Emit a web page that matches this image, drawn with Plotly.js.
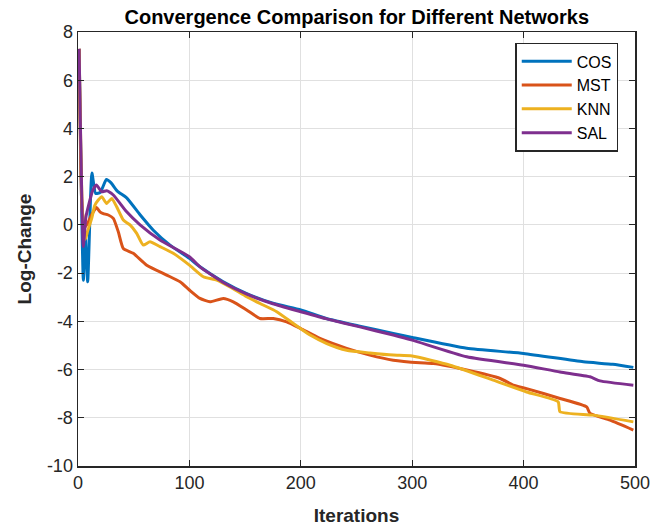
<!DOCTYPE html>
<html>
<head>
<meta charset="utf-8">
<script src="https://cdn.plot.ly/plotly-3.0.1.min.js"></script>
<style>html,body{margin:0;padding:0;background:#fff;}#chart{width:651px;height:529px;}</style>
</head>
<body>
<div id="chart"></div>
<script>
// Series names
const seriesNames = ["COS", "MST", "KNN", "SAL"];
const seriesColors = ["#0072BD", "#D95319", "#EDB120", "#7E2F8E"];

// COS (blue)
const cosX = [1, 4.8, 6.5, 8.7, 12.5, 15.9, 20, 25.5, 29.5, 35.3, 43.7, 55.7, 67.6, 82.6, 100, 109.5, 130, 151, 175, 200, 223, 253, 283, 300, 349, 400, 453.6, 480, 498.5];
const cosY = [7.3, -2.3, -0.4, -2.36, 2.15, 1.3, 1.35, 1.88, 1.75, 1.4, 1.12, 0.42, -0.22, -0.84, -1.39, -1.74, -2.35, -2.84, -3.25, -3.53, -3.88, -4.2, -4.5, -4.67, -5.12, -5.33, -5.68, -5.78, -5.91];

// MST (orange)
const mstX = [1, 3.5, 6, 9, 12, 16.5, 19.7, 22.7, 27.2, 31.7, 36.2, 40.7, 49.6, 61.7, 79.6, 91.6, 100, 109.5, 118.5, 130.4, 139.4, 151.4, 163.4, 175.3, 187.3, 200, 217.2, 241.2, 262, 283, 307, 319, 349, 379, 390.8, 402.7, 432.7, 456.6, 459.6, 477.6, 498.5];
const mstY = [7.3, 0.8, -0.1, 0.1, 0.4, 0.72, 0.54, 0.47, 0.41, 0.27, -0.29, -0.98, -1.18, -1.67, -2.08, -2.36, -2.7, -3.05, -3.19, -3.05, -3.19, -3.53, -3.88, -3.88, -4.02, -4.3, -4.71, -5.12, -5.4, -5.61, -5.72, -5.75, -6.02, -6.37, -6.65, -6.79, -7.2, -7.55, -7.82, -8.1, -8.51];

// KNN (yellow)
const knnX = [1, 4, 6.5, 8.7, 12.3, 15, 18.2, 21.3, 25.7, 30.3, 34.7, 40.7, 46.7, 52.7, 58.6, 64.6, 73.6, 85.5, 100, 112.5, 124.5, 136.4, 151.4, 163.4, 178.4, 193.3, 208.3, 223.3, 241.2, 262, 283, 300, 334, 372.8, 402.7, 431, 432.7, 462.6, 498.5];
const knnY = [7.3, 0.5, -0.6, -0.25, 0.27, 0.8, 1.03, 1.17, 0.89, 1.1, 0.75, 0.2, 0.0, -0.35, -0.84, -0.7, -0.9, -1.18, -1.67, -2.15, -2.29, -2.57, -2.98, -3.26, -3.6, -4.09, -4.57, -4.92, -5.2, -5.31, -5.4, -5.44, -5.82, -6.44, -6.93, -7.34, -7.75, -7.89, -8.17];

// SAL (purple)
const salX = [1, 4.8, 7, 10, 13, 16.5, 21.3, 25.7, 31.7, 43.7, 55.7, 73.6, 100, 109.5, 130, 151, 175, 200, 223.3, 253, 283, 300, 349, 400, 432.7, 459.6, 468.6, 498.5];
const salY = [7.3, -0.9, 0.3, 0.9, 1.4, 1.65, 1.37, 1.42, 1.24, 0.54, 0.0, -0.63, -1.32, -1.74, -2.38, -2.86, -3.27, -3.6, -3.9, -4.23, -4.57, -4.78, -5.47, -5.82, -6.1, -6.3, -6.47, -6.65];

const xTicks = [0, 100, 200, 300, 400, 500];
const yTicks = [-10, -8, -6, -4, -2, 0, 2, 4, 6, 8];

const xs = [cosX, mstX, knnX, salX];
const ys = [cosY, mstY, knnY, salY];

const traces = seriesNames.map((n, i) => ({
  x: xs[i], y: ys[i], name: n, type: "scatter", mode: "lines",
  line: {color: seriesColors[i], width: 3, shape: "spline", smoothing: 0.5},
  hoverinfo: "skip"
}));

const FONT = "Liberation Sans, Arial, sans-serif";
const layout = {
  width: 651, height: 529,
  margin: {l: 78, r: 16, t: 32, b: 63},
  paper_bgcolor: "#ffffff", plot_bgcolor: "#ffffff",
  font: {family: FONT, size: 16, color: "#262626"},
  title: {text: "<b>Convergence Comparison for Different Networks</b>", font: {family: FONT, size: 20, color: "#000"}, x: 0.548, xanchor: "center", y: 0.968, yanchor: "middle"},
  xaxis: {
    range: [0, 500], tickvals: xTicks, ticktext: xTicks.map(String),
    showgrid: true, gridcolor: "#e0e0e0", gridwidth: 1,
    showline: true, linecolor: "#262626", linewidth: 1.5, mirror: "ticks",
    ticks: "inside", ticklen: 6, tickcolor: "#262626", tickwidth: 1,
    zeroline: false, tickfont: {size: 18, color: "#262626"},
    title: {text: "<b>Iterations</b>", font: {size: 19, color: "#262626"}, standoff: 16}
  },
  yaxis: {
    range: [-10, 8], tickvals: yTicks, ticktext: yTicks.map(String),
    showgrid: true, gridcolor: "#e0e0e0", gridwidth: 1,
    showline: true, linecolor: "#262626", linewidth: 1.5, mirror: "ticks",
    ticks: "inside", ticklen: 6, tickcolor: "#262626", tickwidth: 1,
    zeroline: false, tickfont: {size: 18, color: "#262626"},
    title: {text: "<b>Log-Change</b>", font: {size: 19, color: "#262626"}, standoff: 10}
  },
  showlegend: true,
  legend: {
    x: 0.785, y: 0.975, xanchor: "left", yanchor: "top",
    bgcolor: "#ffffff", bordercolor: "#262626", borderwidth: 1.5,
    font: {size: 16, color: "#000"}, itemwidth: 50, tracegroupgap: 0
  }
};

Plotly.newPlot("chart", traces, layout, {displayModeBar: false, staticPlot: true});
</script>
</body>
</html>
